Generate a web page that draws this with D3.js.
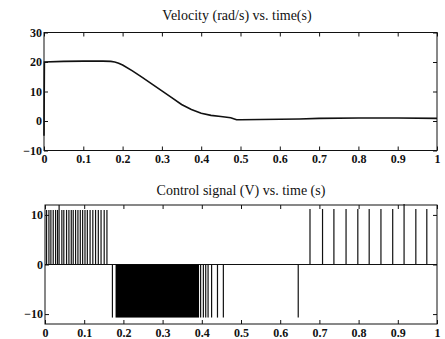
<!DOCTYPE html>
<html>
<head>
<meta charset="utf-8">
<script src="https://cdn.jsdelivr.net/npm/d3@7"></script>
<style>
  body { margin: 0; background: #fff; }
  svg { display: block; font-family: "Liberation Serif", "Times New Roman", serif; }
  .title { font-size: 14px; fill: #111; }
  .axis line { stroke: #111; }
  .axis .domain { display: none; }
</style>
</head>
<body>
<div id="chart"></div>
<script>
// velocity trace
const velT = [0, 0.001, 0.05, 0.1, 0.15, 0.17, 0.18, 0.19, 0.2, 0.225, 0.25, 0.275, 0.3, 0.325, 0.35, 0.375, 0.4, 0.425, 0.45, 0.475, 0.49, 0.5, 0.55, 0.6, 0.65, 0.7, 0.8, 0.9, 1.0];
const velV = [-5, 20, 20.2, 20.3, 20.3, 20.2, 20, 19.6, 19, 17, 14.8, 12.5, 10.2, 7.9, 5.6, 3.9, 2.6, 1.9, 1.5, 1.1, 0.4, 0.4, 0.5, 0.6, 0.7, 0.9, 1.0, 1.0, 0.9];

// control signal: switching instants
const posPulseT = [0.004, 0.010, 0.015, 0.021, 0.027, 0.032, 0.036, 0.043, 0.048, 0.055, 0.061, 0.067, 0.072, 0.078, 0.084, 0.090, 0.096, 0.102, 0.108, 0.115, 0.122, 0.129, 0.136, 0.143, 0.151, 0.158,
                   0.676, 0.708, 0.737, 0.768, 0.798, 0.827, 0.857, 0.887, 0.916, 0.946, 0.974];
const posPulseV = [11, 11, 11, 11, 11, 11, 12, 11, 11, 11, 11, 11, 11, 11, 11, 11, 11, 11, 11, 11, 11, 11, 11, 11, 11, 11,
                   11.2, 11.2, 11.2, 11.2, 11.2, 11.2, 11.2, 11.2, 12.2, 11.2, 11.2];
const negPulseT = [0.172, 0.397, 0.404, 0.410, 0.416, 0.425, 0.440, 0.455, 0.646];
const negLevel = -10.7;
const chatterBand = [0.180, 0.393];

const xTicks = [0, 0.1, 0.2, 0.3, 0.4, 0.5, 0.6, 0.7, 0.8, 0.9, 1];
const velTicks = [-10, 0, 10, 20, 30];
const ctrlTicks = [-10, 0, 10];

const W = 445, H = 339;
const serif = '"Liberation Serif", "Times New Roman", serif';
const svg = d3.select("#chart").append("svg").attr("width", W).attr("height", H);

function frame(g, x, y, yTicks) {
  const [xa, xb] = x.range();
  const [ya, yb] = y.range();
  g.append("g").attr("class", "axis").attr("transform", `translate(0,${ya})`)
    .call(d3.axisBottom(x).tickValues(xTicks).tickSizeInner(-4).tickSizeOuter(0).tickPadding(4)
      .tickFormat(d3.format("~g")));
  g.append("g").attr("class", "axis").attr("transform", `translate(0,${yb})`)
    .call(d3.axisTop(x).tickValues(xTicks).tickSizeInner(-4).tickSizeOuter(0).tickFormat(""));
  g.append("g").attr("class", "axis").attr("transform", `translate(${xa},0)`)
    .call(d3.axisLeft(y).tickValues(yTicks).tickSizeInner(-4).tickSizeOuter(0).tickPadding(2)
      .tickFormat(d3.format("d")));
  g.append("g").attr("class", "axis").attr("transform", `translate(${xb},0)`)
    .call(d3.axisRight(y).tickValues(yTicks).tickSizeInner(-4).tickSizeOuter(0).tickFormat(""));
  g.selectAll(".axis text")
    .style("font-family", serif)
    .style("font-size", "12px")
    .style("font-weight", "bold")
    .style("fill", "#111");
  g.append("rect")
    .attr("x", xa).attr("y", yb).attr("width", xb - xa).attr("height", ya - yb)
    .attr("fill", "none").attr("stroke", "#111").attr("stroke-width", 1);
}

// ---- upper panel: velocity
const xVel = d3.scaleLinear().domain([0, 1]).range([44, 437]);
const yVel = d3.scaleLinear().domain([-10, 30]).range([150.5, 32.5]);

const velPanel = svg.append("g");
velPanel.append("path")
  .datum(velT.map((t, i) => [t, velV[i]]))
  .attr("fill", "none").attr("stroke", "#111").attr("stroke-width", 1.6)
  .attr("d", d3.line().x(d => xVel(d[0])).y(d => yVel(d[1])));
frame(velPanel, xVel, yVel, velTicks);
velPanel.append("text").attr("class", "title")
  .attr("x", 237).attr("y", 20).attr("text-anchor", "middle")
  .text("Velocity (rad/s) vs. time(s)");

// ---- lower panel: control signal
const xCtl = d3.scaleLinear().domain([0, 1]).range([45, 437]);
const yCtl = d3.scaleLinear().domain([-12, 12]).range([324, 205]);

const ctlPanel = svg.append("g");
ctlPanel.append("line")
  .attr("x1", xCtl(0)).attr("x2", xCtl(1)).attr("y1", yCtl(0)).attr("y2", yCtl(0))
  .attr("stroke", "#111").attr("stroke-width", 1);
ctlPanel.append("rect")
  .attr("x", xCtl(chatterBand[0])).attr("width", xCtl(chatterBand[1]) - xCtl(chatterBand[0]))
  .attr("y", yCtl(0)).attr("height", yCtl(negLevel) - yCtl(0))
  .attr("fill", "#000");
ctlPanel.selectAll("line.pos").data(posPulseT).enter().append("line")
  .attr("class", "pos")
  .attr("x1", d => xCtl(d)).attr("x2", d => xCtl(d))
  .attr("y1", yCtl(0)).attr("y2", (d, i) => yCtl(posPulseV[i]))
  .attr("stroke", "#111").attr("stroke-width", 1.2);
ctlPanel.selectAll("line.neg").data(negPulseT).enter().append("line")
  .attr("class", "neg")
  .attr("x1", d => xCtl(d)).attr("x2", d => xCtl(d))
  .attr("y1", yCtl(0)).attr("y2", yCtl(negLevel))
  .attr("stroke", "#111").attr("stroke-width", 1.2);
frame(ctlPanel, xCtl, yCtl, ctrlTicks);
ctlPanel.append("text").attr("class", "title")
  .attr("x", 241).attr("y", 195).attr("text-anchor", "middle")
  .text("Control signal (V) vs. time (s)");
</script>
</body>
</html>
